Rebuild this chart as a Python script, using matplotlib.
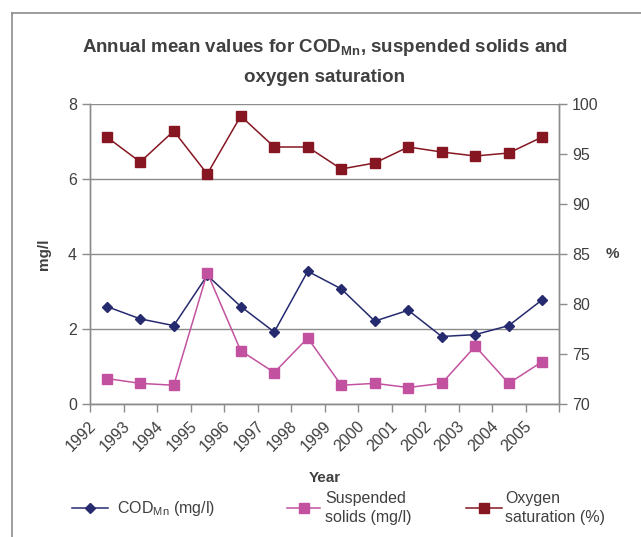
import numpy as np
import matplotlib
matplotlib.use('Agg')
import matplotlib.pyplot as plt
from matplotlib.lines import Line2D

plt.rcParams['font.family'] = ['Liberation Sans', 'DejaVu Sans']
plt.rcParams['mathtext.fontset'] = 'custom'
plt.rcParams['mathtext.rm'] = 'Liberation Sans'
plt.rcParams['mathtext.bf'] = 'Liberation Sans:bold'

years = ['1992', '1993', '1994', '1995', '1996', '1997', '1998',
         '1999', '2000', '2001', '2002', '2003', '2004', '2005']
cod = [2.60, 2.27, 2.09, 3.43, 2.60, 1.92, 3.54, 3.07, 2.21, 2.50, 1.80, 1.85, 2.09, 2.78]
solids = [0.68, 0.55, 0.50, 3.50, 1.42, 0.84, 1.76, 0.50, 0.55, 0.44, 0.55, 1.54, 0.55, 1.13]
oxygen = [96.7, 94.2, 97.3, 93.0, 98.8, 95.7, 95.7, 93.5, 94.1, 95.7, 95.2, 94.8, 95.1, 96.7]

TXT = '#404040'
GRID = '#8c8c8c'
C_COD = '#262a6e'
C_SS = '#c2529f'
C_OX = '#861722'

fig = plt.figure(figsize=(6.41, 5.37), dpi=100)
ax = fig.add_axes([90 / 641, 1 - 404 / 537, 469 / 641, 300 / 537])
ax2 = ax.twinx()

x = np.arange(len(years))
ax.plot(x, cod, color=C_COD, lw=1.1, marker='D', ms=5.5, zorder=3)
ax.plot(x, solids, color=C_SS, lw=1.1, marker='s', ms=6.5, zorder=3)
ax2.plot(x, oxygen, color=C_OX, lw=1.1, marker='s', ms=6.5, zorder=3)

ax.set_xlim(-0.5, len(years) - 0.5)
ax.set_ylim(0, 8)
ax2.set_ylim(70, 100)
ax.set_yticks([0, 2, 4, 6, 8])
ax2.set_yticks(np.arange(70, 101, 5))
ax.yaxis.grid(True, color=GRID, lw=1)
ax.set_axisbelow(True)

for a in (ax, ax2):
    a.spines['top'].set_visible(False)
    for s in ('left', 'right', 'bottom'):
        a.spines[s].set_color(GRID)
        a.spines[s].set_linewidth(1)
    a.tick_params(axis='both', colors=GRID, labelcolor=TXT, labelsize=11.5,
                  length=6, width=1)

# category boundaries as ticks, labels slightly left of centres
ax.set_xticks(np.arange(-0.5, len(years)))
ax.set_xticklabels([])
ax.set_xticks(x - 0.38, minor=True)
ax.set_xticklabels(years, minor=True, rotation=45, ha='right', va='center',
                   rotation_mode='anchor', fontsize=11.5, color=TXT)
ax.tick_params(axis='x', which='minor', length=0, pad=14)
ax.tick_params(axis='x', which='major', length=6)

ax.set_ylabel('mg/l', fontsize=11, fontweight='bold', color=TXT, labelpad=12)
ax2.set_ylabel('%', fontsize=11, fontweight='bold', color=TXT, rotation=0,
               labelpad=10, va='center')
fig.text(325 / 641, 1 - 478 / 537, 'Year', ha='center', va='center',
         fontsize=11, fontweight='bold', color=TXT)

fig.text(325 / 641, 1 - 48 / 537,
         r'Annual mean values for COD$_{\mathbf{Mn}}$, suspended solids and',
         ha='center', va='center', fontsize=13.5, fontweight='bold', color=TXT)
fig.text(325 / 641, 1 - 77 / 537, 'oxygen saturation',
         ha='center', va='center', fontsize=13.5, fontweight='bold', color=TXT)

# outer frame (left and top only visible)
fig.add_artist(Line2D([12 / 641, 12 / 641], [0, 1 - 13 / 537],
                      transform=fig.transFigure, color=GRID, lw=1.2))
fig.add_artist(Line2D([12 / 641, 1], [1 - 13 / 537, 1 - 13 / 537],
                      transform=fig.transFigure, color=GRID, lw=1.2))

# legend entries
def legend_entry(x0, x1, xt, y0, color, marker, ms, label):
    fy = 1 - y0 / 537
    fig.add_artist(Line2D([x0 / 641, x1 / 641], [fy, fy],
                          transform=fig.transFigure, color=color, lw=1.1))
    fig.add_artist(Line2D([(x0 + x1) / 2 / 641], [fy], transform=fig.transFigure,
                          color=color, marker=marker, ms=ms, lw=0))
    fig.text(xt / 641, fy, label, ha='left', va='center',
             fontsize=11.5, color=TXT, linespacing=1.4)

legend_entry(72, 108, 117, 508, C_COD, 'D', 5.5, r'COD$_{\mathrm{Mn}}$ (mg/l)')
legend_entry(287, 320, 325, 508, C_SS, 's', 6.5, 'Suspended\nsolids (mg/l)')
legend_entry(466, 502, 505, 508, C_OX, 's', 6.5, 'Oxygen\nsaturation (%)')

fig.savefig('out.png', dpi=100)
